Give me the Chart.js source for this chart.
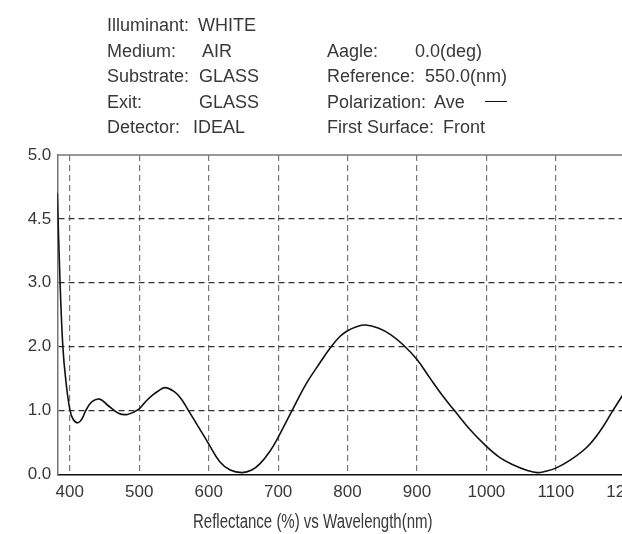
<!DOCTYPE html>
<html>
<head>
<meta charset="utf-8">
<script src="https://cdn.jsdelivr.net/npm/chart.js@4.4.1/dist/chart.umd.min.js"></script>
<style>
  html, body { margin: 0; padding: 0; background: #fff; overflow: hidden; }
  #wrap { position: relative; width: 622px; height: 534px; overflow: hidden; }
  #myChart { position: absolute; left: 0; top: 0; }
  .txt {
    position: absolute;
    font-family: "Liberation Sans", Arial, sans-serif;
    font-size: 18px; line-height: 18px; color: #383838; white-space: nowrap;
    transform-origin: 0 0;
  }
  .legline { position: absolute; height: 0; border-top: 1.6px solid #111; }
</style>
</head>
<body>
<div id="wrap">
  <canvas id="myChart" width="680" height="534"></canvas>
</div>
<script>
// header info
var leftLabels = ['Illuminant:', 'Medium:', 'Substrate:', 'Exit:', 'Detector:'];
var leftValues = ['WHITE', 'AIR', 'GLASS', 'GLASS', 'IDEAL'];
var rightLabels = ['Aagle:', 'Reference:', 'Polarization:', 'First Surface:'];
var rightValues = ['0.0(deg)', '550.0(nm)', 'Ave', 'Front'];
var xTitle = 'Reflectance (%) vs Wavelength(nm)';

// curve
var wavelength = [382, 386, 390, 394, 400, 405, 412, 418, 423, 432, 443, 455, 470, 483, 499, 510, 520, 528, 537, 550, 560, 571, 585, 600, 616, 631, 648, 662, 674, 688, 700, 720, 741, 761, 775, 789, 800, 812, 826, 845, 862, 880, 900, 918, 935, 954, 975, 1000, 1020, 1039, 1060, 1073, 1085, 1100, 1120, 1145, 1165, 1182, 1195, 1205];
var reflectance = [4.41, 3.0, 2.0, 1.5, 1.02, 0.86, 0.81, 0.88, 1.0, 1.14, 1.18, 1.08, 0.96, 0.94, 1.02, 1.15, 1.25, 1.31, 1.36, 1.3, 1.19, 1.0, 0.75, 0.48, 0.2, 0.07, 0.03, 0.07, 0.17, 0.36, 0.58, 1.0, 1.43, 1.76, 1.98, 2.16, 2.25, 2.31, 2.34, 2.29, 2.19, 2.03, 1.8, 1.52, 1.26, 1.0, 0.72, 0.44, 0.26, 0.15, 0.06, 0.03, 0.05, 0.1, 0.22, 0.43, 0.7, 1.0, 1.22, 1.4];

var xTicks = [400, 500, 600, 700, 800, 900, 1000, 1100, 1200];
var yTickLabels = ['0.0', '1.0', '2.0', '3.0', '4.5', '5.0'];

var FONT = '"Liberation Sans", Arial, sans-serif';

var wrap = document.getElementById('wrap');
function addText(str, left, baseline) {
  var d = document.createElement('div');
  d.className = 'txt';
  d.textContent = str;
  d.style.left = left + 'px';
  d.style.top = (baseline - 15) + 'px';
  wrap.appendChild(d);
  return d;
}

var leftValX = [198, 202, 199, 199, 193];
var rightValX = [415, 425, 434, 443];
for (var i = 0; i < leftLabels.length; i++) {
  addText(leftLabels[i], 107, 31 + 25.5 * i);
  addText(leftValues[i], leftValX[i], 31 + 25.5 * i);
}
for (var j = 0; j < rightLabels.length; j++) {
  addText(rightLabels[j], 327, 56.5 + 25.5 * j);
  addText(rightValues[j], rightValX[j], 56.5 + 25.5 * j);
}
var leg = document.createElement('div');
leg.className = 'legline';
leg.style.left = '485px'; leg.style.width = '22px'; leg.style.top = '101px';
wrap.appendChild(leg);

// axis title, condensed look
var t = addText(xTitle, 0, 528);
t.style.fontSize = '20px';
t.style.lineHeight = '20px';
t.style.top = '511px';
t.style.transform = 'scaleX(0.75)';
t.style.left = (313 - t.offsetWidth * 0.75 / 2) + 'px';

var topBorder = {
  id: 'topBorder',
  afterDraw: function(chart) {
    var a = chart.chartArea, c = chart.ctx;
    c.save();
    c.strokeStyle = '#777';
    c.lineWidth = 1.5;
    c.beginPath();
    c.moveTo(a.left, a.top);
    c.lineTo(a.right, a.top);
    c.stroke();
    c.restore();
  }
};

Chart.defaults.font.family = FONT;

var chart = document.getElementById('myChart');
var myChart = new Chart(chart, {
  type: 'line',
  data: {
    datasets: [{
      label: 'Ave',
      data: wavelength.map(function(w, k) { return { x: w, y: reflectance[k] }; }),
      borderColor: '#111',
      borderWidth: 1.6,
      pointRadius: 0,
      fill: false,
      tension: 0.4
    }]
  },
  options: {
    responsive: false,
    animation: false,
    layout: { padding: { top: 155, left: 0, right: 20, bottom: 0 } },
    plugins: { legend: { display: false }, tooltip: { enabled: false } },
    scales: {
      x: {
        type: 'linear', min: 382, max: 1250,
        afterBuildTicks: function(s) { s.ticks = xTicks.map(function(v) { return { value: v }; }); },
        afterFit: function(s) { s.height = 59.5; },
        grid: { color: '#777', lineWidth: 1.2, drawTicks: false },
        border: { color: '#111', width: 1.5, dash: [6, 4] },
        ticks: { color: '#383838', font: { size: 17 }, padding: 8, maxRotation: 0, autoSkip: false,
          callback: function(v) { return String(v); } }
      },
      y: {
        min: 0, max: 5,
        afterBuildTicks: function(s) { s.ticks = yTickLabels.map(function(l, k) { return { value: k }; }); },
        afterFit: function(s) { s.width = 57.3; },
        grid: {
          color: function(c) { return (c.tick && (c.tick.value === 0 || c.tick.value === 5)) ? 'rgba(0,0,0,0)' : '#333'; },
          lineWidth: 1.2, drawTicks: false
        },
        border: { color: '#777', width: 1.5, dash: [6, 4] },
        ticks: { color: '#383838', font: { size: 17 }, padding: 6, callback: function(v, k) { return yTickLabels[k]; } }
      }
    }
  },
  plugins: [topBorder]
});
</script>
</body>
</html>
